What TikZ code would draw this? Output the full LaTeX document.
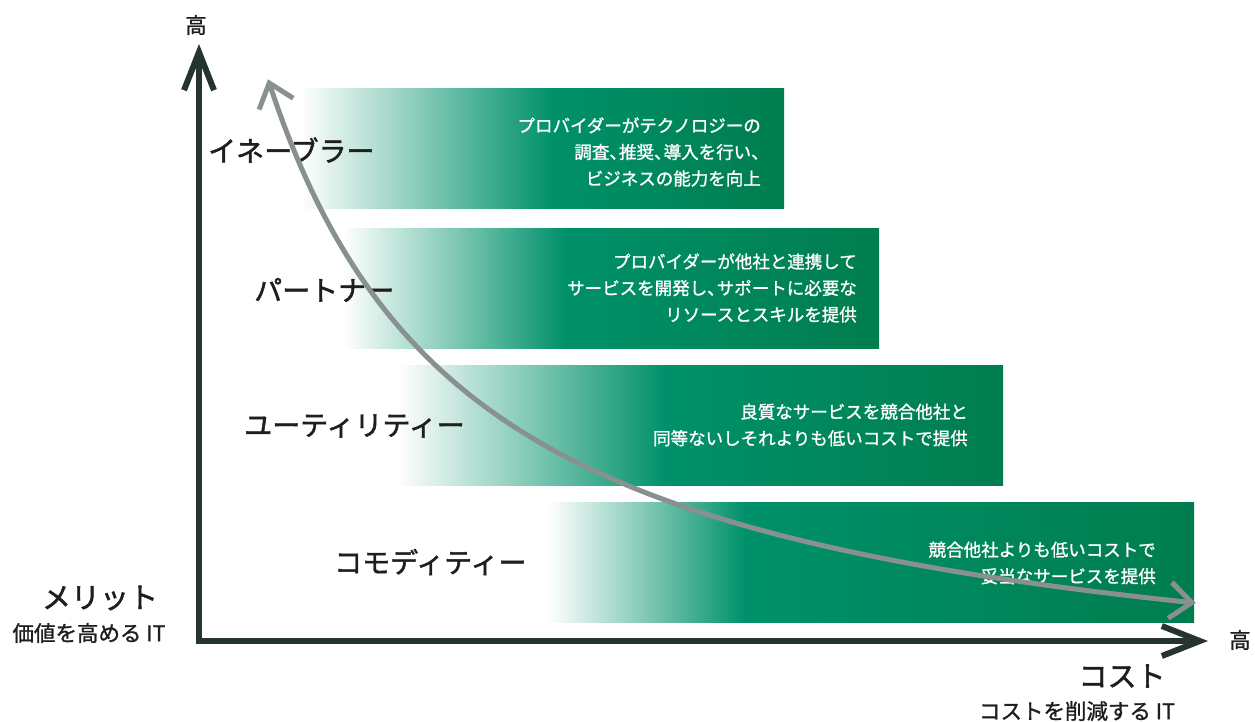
\documentclass[tikz,border=0pt]{standalone}
\usepackage{fontspec}
\setmainfont{Noto Sans CJK JP}
\newfontfamily\jpmed[FakeBold=1.6]{Noto Sans CJK JP}
\newfontfamily\jpsemi[FakeBold=1.2]{Noto Sans CJK JP}
\usetikzlibrary{arrows.meta}
\definecolor{axiscol}{RGB}{38,52,49}
\definecolor{curvecol}{RGB}{136,145,144}
\definecolor{gpeak}{RGB}{0,145,106}
\definecolor{gdark}{RGB}{0,125,78}
\definecolor{gmid}{RGB}{148,192,170}
\definecolor{txt}{RGB}{30,30,30}
\newcommand{\tcomma}{、\kern-0.45em}
\tikzset{
  axisline/.style={draw=axiscol,line width=6pt,line join=miter,
    {Straight Barb[length=38pt,width=30pt,line width=6pt]}-{Straight Barb[length=38pt,width=30pt,line width=6pt]}},
  curveline/.style={draw=curvecol,line width=5pt,
    {Straight Barb[length=22pt,width=36pt,line width=5pt]}-{Straight Barb[length=22pt,width=36pt,line width=5pt]}},
  fade/.style={left color=white,middle color=gmid,right color=gpeak,draw=none},
  solid green/.style={left color=gpeak,right color=gdark,draw=none},
  desc/.style={text=white,align=right,anchor=east,inner sep=0pt,font=\jpsemi\fontsize{17.5}{26.5}\selectfont},
  level/.style={text=txt,anchor=west,inner sep=0pt,font=\jpmed\fontsize{28}{30}\selectfont},
  axistitle/.style={text=txt,inner sep=0pt,font=\jpmed\fontsize{29}{30}\selectfont},
  axissub/.style={text=txt,inner sep=0pt,font=\jpsemi\fontsize{21.5}{22}\selectfont},
}
\begin{document}
\begin{tikzpicture}[x=1pt,y=-1pt]
\useasboundingbox (0,0) rectangle (1255,722);
% bands
\shade[fade] (300,89) rectangle (552,209);
\shade[solid green] (551,89) rectangle (784,209);
\shade[fade] (343,228) rectangle (565,348);
\shade[solid green] (564,228) rectangle (879,348);
\shade[fade] (397,365) rectangle (665,485);
\shade[solid green] (664,365) rectangle (1003,485);
\shade[fade] (548,502) rectangle (745,622);
\shade[solid green] (744,502) rectangle (1194,622);
% band texts
\node[desc] (d1) at (761,152) {プロバイダーがテクノロジーの\\調査\tcomma 推奨\tcomma 導入を行い\tcomma\\ビジネスの能力を向上};
\node[desc] (d2) at (857,288) {プロバイダーが他社と連携して\\サービスを開発し\tcomma サポートに必要な\\リソースとスキルを提供};
\node[desc] (d3) at (968,425) {良質なサービスを競合他社と\\同等ないしそれよりも低いコストで提供};
\node[desc] (d4) at (1156,563) {競合他社よりも低いコストで\\妥当なサービスを提供};
% level labels
\node[level] (l1) at (208,150) {イネーブラー};
\node[level] (l2) at (254,290) {パートナー};
\node[level] (l3) at (244,426) {ユーティリティー};
\node[level] (l4) at (334,562) {コモディティー};
% curve (hyperbola y = 720.4 - 133350/(x-60), computed in units of 100)
\draw[curveline] plot[domain=2.68:11.96,samples=120,smooth] ({100*\x},{100*(7.204-13.335/(\x-0.6))});
% axes
\coordinate (ytip) at (199,44);
\coordinate (origin) at (199,641);
\coordinate (xtip) at (1208,641);
\draw[axisline] (ytip) -- (origin) -- (xtip);
% axis labels
\node[axissub] (yhigh) at (196,25) {高};
\node[axissub] (xhigh) at (1240,640) {高};
\node[axistitle] (ytitle) at (100,598) {メリット};
\node[axissub] (ysub) at (89,633) {価値を高める IT};
\node[axistitle] (xtitle) at (1122,676) {コスト};
\node[axissub] (xsub) at (1077,711) {コストを削減する IT};
\end{tikzpicture}
\end{document}
